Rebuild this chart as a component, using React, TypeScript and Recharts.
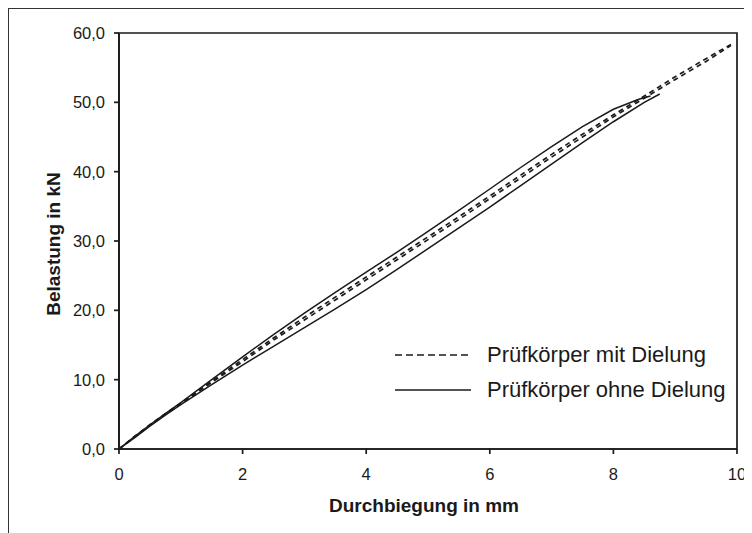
import { LineChart, Line, XAxis, YAxis, ReferenceArea, Label } from 'recharts';

type Punkt = { x: number; y: number };

// Durchbiegung in mm / Belastung in kN, je Prüfkörper
const mitDielungA_x = [0, 0.25, 0.5, 0.75, 1, 1.5, 2, 2.5, 3, 3.5, 4, 4.5, 5, 5.5, 6, 6.5, 7, 7.5, 8, 8.5, 9, 9.5, 9.95];
const mitDielungA_y = [0, 1.8, 3.5, 5.1, 6.6, 9.8, 12.9, 16.0, 19.0, 21.9, 24.8, 27.7, 30.6, 33.5, 36.5, 39.5, 42.5, 45.4, 48.2, 50.9, 53.7, 56.3, 58.6];

const mitDielungB_x = [0, 0.25, 0.5, 0.75, 1, 1.5, 2, 2.5, 3, 3.5, 4, 4.5, 5, 5.5, 6, 6.5, 7, 7.5, 8, 8.5, 9, 9.5, 9.9];
const mitDielungB_y = [0, 1.7, 3.4, 5.0, 6.5, 9.6, 12.6, 15.7, 18.6, 21.5, 24.4, 27.3, 30.2, 33.1, 36.1, 39.1, 42.1, 45.0, 47.9, 50.6, 53.3, 55.9, 58.2];

const ohneDielungA_x = [0, 0.25, 0.5, 0.75, 1, 1.5, 2, 2.5, 3, 3.5, 4, 4.5, 5, 5.5, 6, 6.5, 7, 7.5, 8, 8.4, 8.6];
const ohneDielungA_y = [0, 1.8, 3.5, 5.1, 6.7, 10.0, 13.3, 16.5, 19.6, 22.6, 25.5, 28.4, 31.4, 34.4, 37.5, 40.6, 43.6, 46.5, 49.0, 50.4, 50.9];

const ohneDielungB_x = [0, 0.25, 0.5, 0.75, 1, 1.5, 2, 2.5, 3, 3.5, 4, 4.5, 5, 5.5, 6, 6.5, 7, 7.5, 8, 8.5, 8.75];
const ohneDielungB_y = [0, 1.6, 3.3, 4.9, 6.4, 9.3, 12.1, 14.8, 17.5, 20.2, 23.0, 25.9, 28.9, 31.9, 34.9, 38.0, 41.1, 44.2, 47.2, 50.0, 51.2];

const xTicks = [0, 2, 4, 6, 8, 10];
const yTicks = [0, 10, 20, 30, 40, 50, 60];

const legende = [
    { name: 'Prüfkörper mit Dielung', dash: '7 4' },
    { name: 'Prüfkörper ohne Dielung', dash: undefined },
];

const FONT = '"Liberation Sans", Arial, sans-serif';
const INK = '#1a1a1a';

const zuPunkten = (xs: number[], ys: number[]): Punkt[] => xs.map((x, i) => ({ x, y: ys[i] }));

function Legende() {
    return (
        <div style={{ position: 'absolute', left: 386, top: 328, fontFamily: FONT, fontSize: 22, color: INK }}>
            {legende.map((l) => (
                <div key={l.name} style={{ display: 'flex', alignItems: 'center', height: 35, whiteSpace: 'nowrap' }}>
                    <svg width={76} height={4} style={{ marginRight: 16 }}>
                        <line x1={0} y1={2} x2={76} y2={2} stroke={INK} strokeWidth={1.5} strokeDasharray={l.dash} />
                    </svg>
                    <span>{l.name}</span>
                </div>
            ))}
        </div>
    );
}

export default function App() {
    const tick = { fontFamily: FONT, fontSize: 16.5, fill: INK };
    const komma = (v: number) => v.toFixed(1).replace('.', ',');

    return (
        <div style={{ position: 'relative', width: 760, height: 540, borderLeft: '1px solid #333', borderTop: '1px solid #333', background: '#fff' }}>
            <style>{'html, body { overflow: hidden; }'}</style>
            <LineChart width={740} height={516} margin={{ top: 24, right: 12, bottom: 16, left: 10 }} style={{ overflow: 'visible' }}>
                <XAxis
                    dataKey="x"
                    type="number"
                    domain={[0, 10]}
                    ticks={xTicks}
                    height={60}
                    tickSize={5}
                    tickMargin={14}
                    tick={tick}
                    stroke={INK}
                    strokeWidth={1.7}
                    allowDuplicatedCategory={false}
                >
                    <Label
                        content={({ viewBox }: any) => (
                            <text x={viewBox.x + viewBox.width / 2 - 4} y={viewBox.y + 56} textAnchor="middle" dominantBaseline="central"
                                style={{ fontFamily: FONT, fontSize: 19, fontWeight: 'bold', fill: INK }}>
                                Durchbiegung in mm
                            </text>
                        )}
                    />
                </XAxis>
                <YAxis
                    type="number"
                    domain={[0, 60]}
                    ticks={yTicks}
                    width={100}
                    tickSize={5}
                    tickMargin={9}
                    tick={tick}
                    tickFormatter={komma}
                    stroke={INK}
                    strokeWidth={1.7}
                >
                    <Label
                        content={({ viewBox }: any) => {
                            const cx = viewBox.x + 34;
                            const cy = viewBox.y + viewBox.height / 2 + 3;
                            return (
                                <text x={cx} y={cy} transform={`rotate(-90 ${cx} ${cy})`} textAnchor="middle" dominantBaseline="central"
                                    style={{ fontFamily: FONT, fontSize: 19, fontWeight: 'bold', fill: INK }}>
                                    Belastung in kN
                                </text>
                            );
                        }}
                    />
                </YAxis>
                <ReferenceArea x1={0} x2={10} y1={0} y2={60} fill="none" stroke={INK} strokeWidth={1.7} ifOverflow="visible" />
                <Line data={zuPunkten(ohneDielungA_x, ohneDielungA_y)} dataKey="y" stroke={INK} strokeWidth={1.5} dot={false} isAnimationActive={false} />
                <Line data={zuPunkten(ohneDielungB_x, ohneDielungB_y)} dataKey="y" stroke={INK} strokeWidth={1.5} dot={false} isAnimationActive={false} />
                <Line data={zuPunkten(mitDielungA_x, mitDielungA_y)} dataKey="y" stroke={INK} strokeWidth={1.7} strokeDasharray="5 4" dot={false} isAnimationActive={false} />
                <Line data={zuPunkten(mitDielungB_x, mitDielungB_y)} dataKey="y" stroke={INK} strokeWidth={1.7} strokeDasharray="5 4" dot={false} isAnimationActive={false} />
            </LineChart>
            <Legende />
        </div>
    );
}
